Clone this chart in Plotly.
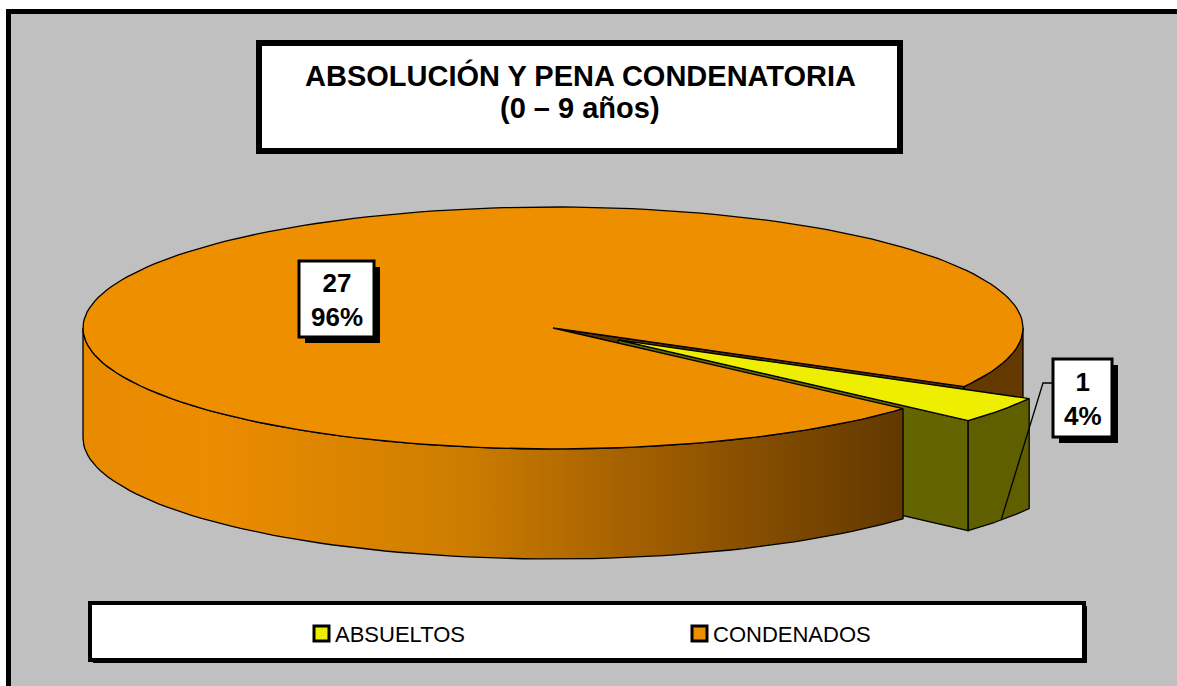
import math
import plotly.graph_objects as go

# ---------------- data ----------------
categories = ["ABSUELTOS", "CONDENADOS"]
values = [1, 27]
top_colors = ["#EEEE00", "#EE8F00"]
title_lines = ["ABSOLUCIÓN Y PENA CONDENATORIA", "(0 – 9 años)"]

# ---------------- geometry (pixel space) ----------------
W, H = 1177, 686
cx, cy, rx, ry, depth = 553, 328, 470, 121, 110
start_deg = 29.0
explode = 0.17

total = sum(values)
angles = []
a = start_deg
for v in values:
    span = v / total * 360.0
    angles.append((a, a + span))
    a += span


def pt(t_deg, r=1.0, dy=0.0, off=(0.0, 0.0)):
    t = math.radians(t_deg)
    return (cx + off[0] + r * rx * math.cos(t), cy + off[1] + r * ry * math.sin(t) + dy)


def arc(t0, t1, n=80, dy=0.0, off=(0.0, 0.0)):
    pts = []
    for i in range(n + 1):
        t = t0 + (t1 - t0) * i / n
        pts.append(pt(t, 1.0, dy, off))
    return pts


def wall(t0, t1, off=(0.0, 0.0)):
    top = arc(t0, t1, off=off)
    bot = arc(t1, t0, dy=depth, off=off)
    p = top + bot + [top[0]]
    return [q[0] for q in p], [q[1] for q in p]


def face(t, off=(0.0, 0.0)):
    c = (cx + off[0], cy + off[1])
    r = pt(t, 1.0, 0, off)
    rb = pt(t, 1.0, depth, off)
    cb = (c[0], c[1] + depth)
    p = [c, r, rb, cb, c]
    return [q[0] for q in p], [q[1] for q in p]


def sector(t0, t1, off=(0.0, 0.0)):
    c = (cx + off[0], cy + off[1])
    p = [c] + arc(t0, t1, n=200, off=off) + [c]
    return [q[0] for q in p], [q[1] for q in p]


fig = go.Figure()
LINE = dict(color="black", width=1.3)


def poly(xy, color, name, **kw):
    fig.add_trace(go.Scatter(x=xy[0], y=xy[1], mode="lines", fill="toself",
                             fillcolor=color, line=LINE, hoverinfo="skip",
                             showlegend=False, name=name, **kw))


ya0, ya1 = angles[0]   # ABSUELTOS
oa0, oa1 = angles[1]   # CONDENADOS (wraps past 360)
bis = (ya0 + ya1) / 2
off = (explode * rx * math.cos(math.radians(bis)), explode * ry * math.sin(math.radians(bis)))

# orange right wall (behind the exploded slice)
poly(wall(360, oa1), "#633900", categories[1])
# orange cut face at end angle
poly(face(oa1), "#5A3300", categories[1])
# exploded yellow slice: cut face, outer wall, top
poly(face(ya1, off), "#646400", categories[0])
poly(wall(ya0, ya1, off), "#5F5F00", categories[0])
poly(sector(ya0, ya1, off), top_colors[0], categories[0])
# orange front wall with gradient
wx, wy = wall(oa0, 180)
fig.add_trace(go.Scatter(
    x=wx, y=wy, mode="lines", fill="toself", line=LINE, hoverinfo="skip", showlegend=False,
    fillgradient=dict(type="horizontal",
                      colorscale=[[0, "#E88A00"], [0.15, "#EC8C00"], [0.45, "#CF7E00"],
                                  [0.7, "#9E5C00"], [1, "#613800"]])))
# orange top
poly(sector(oa0, oa1), top_colors[1], categories[1])

# ---------------- decorations ----------------
shapes = []
annotations = []

# outer frame
shapes.append(dict(type="rect", xref="x", yref="y", x0=8.5, y0=11.5, x1=W + 20, y1=H + 20,
                   fillcolor="#C0C0C0", line=dict(color="black", width=5), layer="below"))


def boxed(x0, y0, x1, y1, bw, sh):
    shapes.append(dict(type="rect", xref="x", yref="y", x0=x0 + sh, y0=y0 + sh, x1=x1 + sh, y1=y1 + sh,
                       fillcolor="black", line=dict(width=0), layer="above"))
    shapes.append(dict(type="rect", xref="x", yref="y", x0=x0, y0=y0, x1=x1, y1=y1,
                       fillcolor="white", line=dict(color="black", width=bw), layer="above"))


# title box
boxed(259, 43, 900, 151, 6, 3)
for i, line in enumerate(title_lines):
    annotations.append(dict(x=580, y=75 + 33 * i, xref="x", yref="y", text="<b>" + line + "</b>",
                            showarrow=False, yanchor="middle",
                            font=dict(family="Liberation Sans, Arial", size=29, color="black")))

# legend box
boxed(90, 603, 1084, 660, 4, 3)
leg_x = [322, 700]
for i, cat in enumerate(categories):
    lx = leg_x[i]
    shapes.append(dict(type="rect", xref="x", yref="y", x0=lx - 8, y0=626, x1=lx + 7, y1=641,
                       fillcolor=top_colors[i], line=dict(color="black", width=3), layer="above"))
    annotations.append(dict(x=lx + 11, y=634, xref="x", yref="y", text=cat, showarrow=False,
                            xanchor="left", yanchor="middle",
                            font=dict(family="Liberation Sans Narrow, Arial Narrow, Liberation Sans",
                                      size=22, color="black")))

# data labels
label_boxes = [(1053, 359, 1112, 437), (299, 261, 374, 337)]
for i, (x0, y0, x1, y1) in enumerate(label_boxes):
    boxed(x0, y0, x1, y1, 3, 6)
    pct = round(values[i] / total * 100)
    annotations.append(dict(x=(x0 + x1) / 2, y=(y0 + y1) / 2 + 1, xref="x", yref="y",
                            text=f"<b>{values[i]}<br>{pct}%</b>", showarrow=False,
                            font=dict(family="Liberation Sans, Arial", size=26, color="black"),
                            align="center"))

# leader line for the small slice
end = pt(bis, 1.0, depth, off)
x0, y0, x1, y1 = label_boxes[0]
shapes.append(dict(type="path", xref="x", yref="y",
                   path=f"M {x0},{y0 + 24} L {x0 - 10},{y0 + 24} L {end[0]:.1f},{end[1]:.1f}",
                   line=dict(color="black", width=1.3), layer="above"))

fig.update_layout(
    width=W, height=H, margin=dict(l=0, r=0, t=0, b=0),
    paper_bgcolor="white", plot_bgcolor="rgba(0,0,0,0)",
    xaxis=dict(range=[0, W], visible=False, fixedrange=True),
    yaxis=dict(range=[H, 0], visible=False, fixedrange=True),
    shapes=shapes, annotations=annotations, showlegend=False,
)
fig.write_html("out.html", config={"displayModeBar": False},
               post_script="document.body.style.margin='0';document.body.style.overflow='hidden';")
